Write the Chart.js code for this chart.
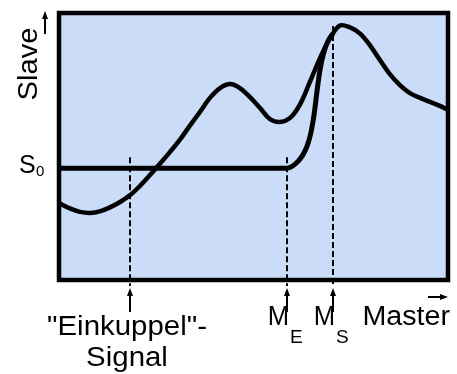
<!DOCTYPE html>
<html>
<head>
<meta charset="utf-8">
<script src="https://cdn.jsdelivr.net/npm/chart.js@4.4.1/dist/chart.umd.min.js"></script>
<style>
  body { margin: 0; background: #fff; }
  #wrap { width: 457px; height: 374px; position: relative; }
</style>
</head>
<body>
<div id="wrap"><canvas id="camChart"></canvas></div>
<script>
// Master curve: x = master position, y = slave position (0..100 units)
const masterX = [0, 2.8, 5.4, 8.0, 10.5, 13.1, 15.7, 18.3, 20.8, 23.4, 26.0, 28.5, 31.1, 33.7, 36.2, 38.8, 41.4, 44.0, 46.5, 49.1, 51.7, 54.2, 56.8, 59.4, 62.0, 64.5, 67.1, 69.7, 72.2, 74.8, 77.4, 79.9, 82.5, 85.1, 87.7, 90.2, 92.8, 95.4, 97.9, 100];
const masterY = [28.8, 26.8, 25.5, 25.1, 25.7, 27.2, 29.2, 31.8, 35.2, 39.3, 43.6, 47.9, 52.6, 57.9, 62.9, 68.2, 71.9, 73.4, 71.9, 68.5, 64.4, 60.3, 59.2, 60.7, 65.9, 74.2, 83.1, 90.6, 95.3, 94.6, 92.3, 88.0, 82.4, 77.0, 72.9, 70.0, 68.2, 66.7, 65.2, 63.7];

// Slave while coupling in: holds S0 until M_E, then catches up with the curve at M_S
const slaveX = [0, 58.6, 60.7, 62.5, 63.8, 64.8, 65.6, 66.3, 67.1, 68.1, 69.2, 70.4];
const slaveY = [41.9, 41.9, 43.4, 46.4, 50.2, 55.4, 62.2, 70.4, 78.7, 85.4, 89.6, 92.3];

// Marker lines ("Einkuppel"-Signal, M_E, M_S)
const markerX = [18.3, 58.6, 70.4];
const markerTop = [46.0, 46.0, 95.1];
const markerLabels = [['"Einkuppel"-', 'Signal'], ['M', 'E'], ['M', 'S']];

const FONT = 'Arial, "Liberation Sans", sans-serif';

function toPoints(xs, ys) {
    return xs.map((x, i) => ({ x: x, y: ys[i] }));
}

function txt(ctx, s, x, y, size, align, sx) {
    ctx.save();
    ctx.font = size + 'px ' + FONT;
    ctx.textAlign = align || 'left';
    ctx.textBaseline = 'alphabetic';
    ctx.translate(x, y);
    ctx.scale(sx || 1, 1);
    ctx.fillText(s, 0, 0);
    ctx.restore();
}

function arrow(ctx, x1, y1, x2, y2) {
    // shaft from (x1,y1) to tip (x2,y2)
    const ang = Math.atan2(y2 - y1, x2 - x1);
    const len = 8, w = 3;
    ctx.beginPath();
    ctx.moveTo(x1, y1);
    ctx.lineTo(x2 - Math.cos(ang) * len, y2 - Math.sin(ang) * len);
    ctx.stroke();
    ctx.beginPath();
    ctx.moveTo(x2, y2);
    ctx.lineTo(x2 - Math.cos(ang) * len - Math.sin(ang) * w, y2 - Math.sin(ang) * len + Math.cos(ang) * w);
    ctx.lineTo(x2 - Math.cos(ang) * len + Math.sin(ang) * w, y2 - Math.sin(ang) * len - Math.cos(ang) * w);
    ctx.closePath();
    ctx.fill();
}

const camDecor = {
    id: 'camDecor',
    beforeDraw(chart) {
        const { ctx, chartArea: a } = chart;
        ctx.save();
        ctx.fillStyle = '#cbdcf8';
        ctx.fillRect(a.left, a.top, a.right - a.left, a.bottom - a.top);
        ctx.restore();
    },
    beforeDatasetsDraw(chart) {
        const { ctx, chartArea: a, scales } = chart;
        ctx.save();
        ctx.strokeStyle = '#000';
        ctx.lineWidth = 2;
        ctx.setLineDash([6, 3]);
        markerX.forEach((mx, i) => {
            const px = Math.round(scales.x.getPixelForValue(mx));
            ctx.beginPath();
            ctx.moveTo(px, scales.y.getPixelForValue(markerTop[i]));
            ctx.lineTo(px, a.bottom + 6);
            ctx.stroke();
        });
        ctx.restore();
    },
    afterDatasetsDraw(chart) {
        const { ctx, chartArea: a, scales } = chart;
        ctx.save();
        // frame
        ctx.strokeStyle = '#000';
        ctx.lineWidth = 4.5;
        ctx.strokeRect(a.left, a.top, a.right - a.left, a.bottom - a.top);

        ctx.fillStyle = '#000';
        ctx.lineWidth = 2;
        // marker arrows and labels
        markerX.forEach((mx, i) => {
            const px = Math.round(scales.x.getPixelForValue(mx));
            arrow(ctx, px, a.bottom + 32, px, a.bottom + 8);
            const lab = markerLabels[i];
            if (i === 0) {
                txt(ctx, lab[0], px - 3, a.bottom + 55, 27, 'center', 1.09);
                txt(ctx, lab[1], px - 3, a.bottom + 86, 27, 'center', 1.09);
            } else {
                txt(ctx, lab[0], px + 2, a.bottom + 45, 27, 'right', 0.95);
                txt(ctx, lab[1], px + 3, a.bottom + 63, 19, 'left', 1);
            }
        });
        // x axis name
        txt(ctx, 'Master', a.right + 2, a.bottom + 45, 27, 'right', 1.06);
        arrow(ctx, a.right - 20, a.bottom + 17, a.right, a.bottom + 17);

        // y axis name (rotated)
        ctx.save();
        ctx.translate(37, 64);
        ctx.rotate(-Math.PI / 2);
        txt(ctx, 'Slave', 0, 0, 27, 'center', 1.08);
        ctx.restore();
        arrow(ctx, 45, 34, 45, 11);

        // S0 tick label
        const s0 = scales.y.getPixelForValue(slaveY[0]);
        txt(ctx, 'S', 19, s0 + 5, 25, 'left', 1.0);
        txt(ctx, '0', 36, s0 + 8, 15, 'left', 1);
        ctx.restore();
    }
};

new Chart(document.getElementById('camChart'), {
    type: 'line',
    data: {
        datasets: [{
            label: 'Master',
            data: toPoints(masterX, masterY),
            borderColor: '#000',
            borderWidth: 4.5,
            tension: 0.35,
            pointRadius: 0,
            fill: false
        }, {
            label: 'Slave',
            data: toPoints(slaveX, slaveY),
            borderColor: '#000',
            borderWidth: 5,
            cubicInterpolationMode: 'monotone',
            pointRadius: 0,
            fill: false
        }]
    },
    options: {
        responsive: true,
        maintainAspectRatio: false,
        animation: false,
        layout: { padding: { left: 59, right: 9, top: 13, bottom: 94 } },
        plugins: {
            legend: { display: false },
            tooltip: { enabled: false }
        },
        scales: {
            x: { type: 'linear', min: 0, max: 100, display: false },
            y: { type: 'linear', min: 0, max: 100, display: false }
        }
    },
    plugins: [camDecor]
});
</script>
</body>
</html>
